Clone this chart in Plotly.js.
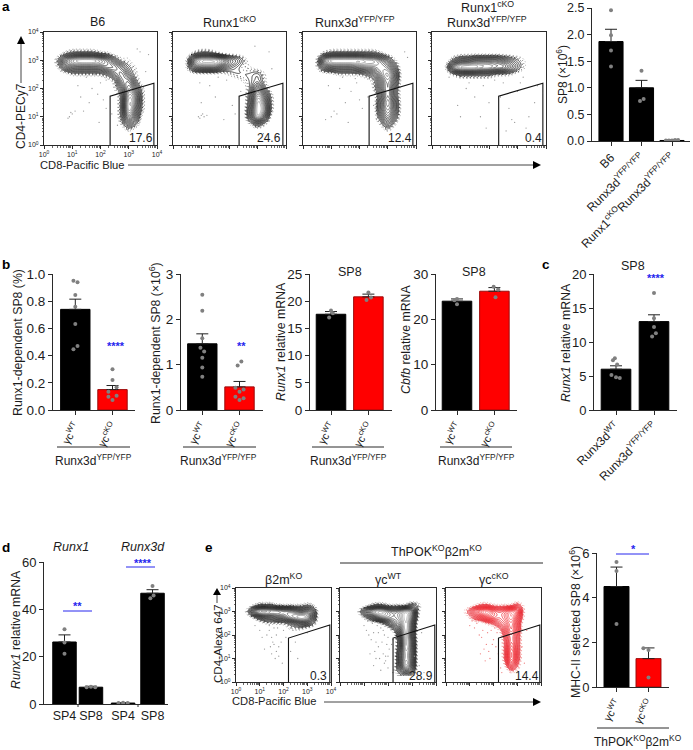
<!DOCTYPE html>
<html><head><meta charset="utf-8">
<script src="https://cdn.plot.ly/plotly-3.0.1.min.js"></script>
<style>html,body{margin:0;padding:0;background:#fff}</style></head>
<body><div id="chart" style="width:693px;height:750px"></div>
<script>
// ---------- FACS density grids (log10 units; rows top = y 3.75 to bottom = y 0.25)
const gridX=[0,.25,.5,.75,1,1.25,1.5,1.75,2,2.25,2.5,2.75,3,3.25,3.5,3.75,4];
const gridY=[3.75,3.5,3.25,3,2.75,2.5,2.25,2,1.75,1.5,1.25,1,.75,.5,.25];
const densB6=["00000000000000000","00000000000000000","00012222110010000","00268999863110000","00145555566421000","00001111124631000","00000000001562000","00000000001374100","00000000000286100","00000000000296100","00000000000295100","00000000000274000","00000000000142000","00000000000010000","00000000000000000"];
const densRunx1=["00000000000000000","00000000000000000","00012210000000000","00179998542000000","00156664321100000","00000000122231000","00000000001231000","00000000000262000","00000000000385100","00000000000396100","00000000000497100","00000000000495000","00000000000131000","00000000000000000","00000000000000000"];
const densRunx3d=["00000000000000000","00000000000000000","00012222222100000","00179999988641000","00145555666763000","00000111123685000","00000000001474000","00000000001473000","00000000000373000","00000000000484000","00000000000474000","00000000000363000","00000000000141000","00000000000010000","00000000000000000"];
const densBoth=["00000000000000000","00000000000000000","00000000000000000","00024455554321000","00179998877531000","00012222211100000","00000000000000000","00000000000000000","00000000000000000","00000000000000000","00000000000000000","00000000000000000","00000000000000000","00000000000000000","00000000000000000"];
const densB2m=["00000000000000000","00000000000000000","00012221111121000","00269988776564000","00013445578984000","00000111123442000","00000000011100000","00000000000000000","00000000000000000","00000000000000000","00000000000000000","00000000000000000","00000000000000000","00000000000000000","00000000000000000"];
const densWT=["00000000000000000","00000000000000000","00000122111132000","00014799767971000","00001357767961000","00000001356950000","00000000025950000","00000000004940000","00000000003950000","00000000003950000","00000000004850000","00000000004850000","00000000004950000","00000000013640000","00000000001210000"];
const densKO=["00000000000000000","00000000000000000","00000122111131000","00013689656871000","00001346656851000","00000001245740000","00000000014740000","00000000003630000","00000000002630000","00000000002730000","00000000002830000","00000000002830000","00000000001620000","00000000000210000","00000000000000000"];
// ---------- scattered events outside contours
const spB6X=[1,.9,.85,1.1,1.3,1.6,1.7,1.9,2,2.1,1.5,1.8,2.2,1.4,1.2,2.4,2.6,3.6,3.4,3.7,3.3,2.2,1.95,.95];
const spB6Y=[1.1,1,.95,1.2,1.7,1.5,2,1.8,2.2,1.6,2.4,2.5,2.3,1.2,2.1,1.1,.7,2.6,3.3,3.2,3.4,1.3,.8,1.15];
const spR1X=[.9,1,.95,1.1,1.05,1.2,1.3,.95,1,1.5,1.9,2.1,2.4,2.2,1.8,1.6,3.2,2.7,3.5,3.4,2.9];
const spR1Y=[1,1.05,.95,1,1.1,1.05,2.1,2.2,1.5,1.7,2.3,1.4,1.9,1.1,.9,2.4,.4,.9,2.7,3.3,3.5];
const spR3X=[1,1.1,.8,1.3,1.5,1.7,1.9,2.1,2.3,1.4,1.2,1.6,2,2.5,2.6,3.4,3.6,3.7,2.2,1.85,.9];
const spR3Y=[1,1.2,.9,2,1.5,1.9,2.2,1.3,1.7,2.4,1.1,.8,1.6,1.4,.9,2.6,3.3,3.1,2.5,2.35,2.1];
const spBothX=[.6,.9,1.2,1.5,1.7,2,2.2,2.5,2.7,3,3.2,3.4,1,1.3,1.8,2.4,2.9,3.1,3.6,2.6,3.7,1.9,2.8,3.3];
const spBothY=[2.4,1.4,2,1.7,1,1.5,2.3,2.2,1.3,1.9,2.4,1,1,2.2,2.1,1.7,.8,2.2,1.5,.5,2.1,.6,.9,.6];
const spB2mX=[1.4,1.5,1.6,1.7,1.3,1.8,2,1.9,1.2,1.6,1.7,1.5,2.1,2.2,2.4,2.7,3,1.4,1.55,1.8,1.65,1.45,2.3,2.6,1,1.1,.8,2.5,1.75,1.95];
const spB2mY=[2.2,1.9,1.6,1.3,2,1.1,2.2,1.7,1.4,2.3,2,1.2,1.9,2.4,2.2,2.3,2.1,2.4,1.7,1.5,1,1.5,1.3,1,2.2,1.9,2.4,1.7,2.3,.8];
const spWtX=[1,1.1,1.2,1.3,1.4,1.5,1.6,1.7,1.8,1.9,2,2.1,1.25,1.45,1.65,1.85,2.05,1.35,1.55,1.75,1.95,1.15,1.6,1.8,2,2.15,1.4,1.7,1.9,2.2,3.2,3.4,3.5,3.1,3.3,1.5,1.85,2.1,2.2,2];
const spWtY=[2.4,2.2,2,1.8,2.1,1.7,1.5,2.3,2.2,1.1,1.9,2.3,1.2,1.3,1,.8,1.4,2.5,2.4,1.7,1.6,2.6,2.1,1.2,.6,1.6,.7,.5,.9,.4,1.5,2.1,.4,1.1,.7,1,2,2.5,1.8,1.1];
const spKoX=[1,1.2,1.4,1.3,1.5,1.6,1.7,1.8,1.9,2,2.1,2.2,1.55,1.65,1.75,1.85,1.95,2.05,2.15,1.1,1.45,3.2,3.3,3.1,3.4,2.35,2.3];
const spKoY=[2.4,2.3,2,2.5,1.9,1.4,1.6,1.3,2.2,1.8,1.5,1.2,2.2,.9,2.1,1,1.6,2.3,2.1,2.6,1.2,1.5,.8,1.1,2.2,.4,.6];
// ---------- gates (log10 units)
const gateAX=[2.34,2.34,3.89,3.89], gateAY=[0,1.73,2.19,0];
const gateEX=[2.21,2.21,3.95,3.95], gateEY=[0,1.87,2.43,0];
const facsTicks=[0,1,2,3,4], facsTickText=['10<sup>0</sup>','10<sup>1</sup>','10<sup>2</sup>','10<sup>3</sup>','10<sup>4</sup>'];
const minorFrac=[.3,.48,.6,.7,.78,.85,.9,.95];
const facsMinor=facsTicks.slice(0,4).flatMap(d=>minorFrac.map(f=>d+f));
// ---------- bar data
const aCats=['B6','Runx3d<sup>YFP/YFP</sup>','Runx1<sup>cKO</sup>Runx3d<sup>YFP/YFP</sup>'];
const aVals=[1.87,1.0,0.01], aErr=[.23,.14,.01];
const aDotX=[0,0,0,0,1,1.07,.95,1.8,1.9,2,2.1,2.2];
const aDotY=[2.46,1.99,1.70,1.40,1.32,.79,.75,.01,.01,.01,.02,.02];
const gammaCats=['γc<sup>WT</sup>','γc<sup>cKO</sup>'];
const b1Vals=[.74,.15], b1Err=[.075,.03];
const b1DotX=[-.05,.06,0,0,0,.06,-.05,1,1,1.11,.89,1.11,.89,1];
const b1DotY=[.95,.94,.846,.76,.632,.47,.446,.30,.22,.167,.135,.105,.098,.073];
const b2Vals=[1.46,.51], b2Err=[.22,.12];
const b2DotX=[0,0,0,-.05,.05,0,0,0,1.05,.95,.89,1.11,1,.89,1.11,1];
const b2DotY=[2.54,2.19,1.58,1.375,1.29,1.15,.94,.735,1.07,.98,.49,.45,.40,.29,.26,.22];
const b3Vals=[17.6,20.8], b3Err=[.5,.5];
const b3DotX=[0,.05,-.05,1,1.07,.95];
const b3DotY=[18.3,17.8,17.0,21.6,20.7,20.2];
const b4Vals=[24.0,26.2], b4Err=[.5,.8];
const b4DotX=[0,-.07,0,.98,1.1,1.03];
const b4DotY=[24.5,24.2,23.3,27.2,26.6,24.85];
const cCats=['Runx3d<sup>WT</sup>','Runx3d<sup>YFP/YFP</sup>'];
const cVals=[6.0,13.0], cErr=[.5,1.0];
const cDotX=[-.03,-.08,.03,-.12,0,.1,1,1,1,1.05,.95];
const cDotY=[7.6,7.3,6.7,5.15,4.8,4.7,17.2,13.5,12.2,11.3,10.8];
const dCats=['SP4','SP8','SP4','SP8'], dPos=[0,.98,2.17,3.26];
const dVals=[26.2,7.1,.4,46.8], dErr=[3,.4,.1,1.5];
const dDotX=[0,0,0,.82,.98,1.14,2,2.17,2.34,3.26,3.3,3.18];
const dDotY=[31.6,26,21.2,7.1,7.3,7.1,.4,.5,.4,49.9,45.8,44.7];
const eVals=[4.5,1.27], eErr=[.87,.48];
const eDotX=[0,0,0,.84,1,1];
const eDotY=[5.6,5.19,2.82,1.74,1.66,.43];

const BLACK='#000000', RED='#ff0000', TXT='#1c1c1c', AX='#2a2a2a', BLUE='#2626ee', DOT='#808080';
const FONT='"Liberation Sans", Arial, sans-serif';
const W=693,H=750;
const px=x=>x/W, py=y=>1-y/H;
const traces=[], layout={width:W,height:H,margin:{l:0,r:0,t:0,b:0},paper_bgcolor:'#fff',plot_bgcolor:'#fff',showlegend:false,
  font:{family:FONT,color:TXT},annotations:[],shapes:[]};
let n=0;
function ann(text,x,y,size,o={}){layout.annotations.push(Object.assign({text,x:px(x),y:py(y),xref:'paper',yref:'paper',showarrow:false,xanchor:'center',yanchor:'middle',font:{size,family:FONT,color:TXT}},o));}
function line(x0,y0,x1,y1,color=AX,width=1){layout.shapes.push({type:'line',xref:'paper',yref:'paper',x0:px(x0),y0:py(y0),x1:px(x1),y1:py(y1),line:{color,width}});}
function tri(a,b,c){layout.shapes.push({type:'path',xref:'paper',yref:'paper',path:`M${px(a[0])},${py(a[1])}L${px(b[0])},${py(b[1])}L${px(c[0])},${py(c[1])}Z`,fillcolor:'#000',line:{width:0}});}
function axes(l,r,t,b,xo,yo){n++;const k=n==1?'':n;
  layout['xaxis'+k]=Object.assign({domain:[px(l),px(r)],anchor:'y'+k,showgrid:false,zeroline:false,showline:true,linecolor:AX,linewidth:1,ticks:'outside',tickcolor:AX,tickwidth:1,fixedrange:true},xo);
  layout['yaxis'+k]=Object.assign({domain:[py(b),py(t)],anchor:'x'+k,showgrid:false,zeroline:false,showline:true,linecolor:AX,linewidth:1,ticks:'outside',tickcolor:AX,tickwidth:1,fixedrange:true},yo);
  return {x:'x'+k,y:'y'+k};}
// render the typed density on a finer mesh so the contours come out round
const FINE=4;
function fineAxis(v){const o=[];for(let i=0;i<v.length-1;i++)for(let j=0;j<FINE;j++)o.push(v[i]+(v[i+1]-v[i])*j/FINE);o.push(v[v.length-1]);return o;}
function fineGrid(z){
  const R=z.length,C=z[0].length,rows=(R-1)*FINE+1,cols=(C-1)*FINE+1;let g=[];
  for(let r=0;r<rows;r++){const r0=Math.floor(r/FINE),fr=r/FINE-r0,r1=Math.min(r0+1,R-1),row=[];
    for(let c=0;c<cols;c++){const c0=Math.floor(c/FINE),fc=c/FINE-c0,c1=Math.min(c0+1,C-1);
      row.push((z[r0][c0]*(1-fc)+z[r0][c1]*fc)*(1-fr)+(z[r1][c0]*(1-fc)+z[r1][c1]*fc)*fr);}
    g.push(row);}
  for(let p=0;p<3;p++){const h=g.map((row,r)=>row.map((v,c)=>(2*v+(row[c-1]??v)+(row[c+1]??v))/4));
    g=h.map((row,r)=>row.map((v,c)=>(2*v+(h[r-1]?h[r-1][c]:v)+(h[r+1]?h[r+1][c]:v))/4));}
  return g;}
const fineX=fineAxis(gridX), fineY=fineAxis(gridY.slice().reverse());
function facs(box,rows,spX,spY,gx,gy,color,showLabels,label,labelPos){
  const [l,r,t,b]=box;
  const common={range:[0,4],tickmode:'array',tickvals:facsTicks,ticktext:facsTickText,showticklabels:showLabels,ticklen:3,mirror:true,tickfont:{size:7,family:FONT,color:TXT},
    minor:{tickmode:'array',tickvals:facsMinor,ticks:'outside',ticklen:1.5,tickcolor:AX,tickwidth:.7}};
  const a=axes(l,r,t,b,common,common);
  const z=fineGrid(rows.slice().reverse().map(s=>[...s].map(Number)));
  traces.push({type:'scatter',mode:'markers',x:spX,y:spY,xaxis:a.x,yaxis:a.y,marker:{size:1.3,color:color==RED?'#f08080':'#999'},hoverinfo:'skip'});
  traces.push({type:'contour',x:fineX,y:fineY,z,xaxis:a.x,yaxis:a.y,showscale:false,hoverinfo:'skip',autocontour:false,
    contours:{coloring:'lines',start:.9,end:1.5,size:.3},line:{width:1,dash:'1px,2.5px',smoothing:0},colorscale:[[0,color==RED?'#f4a0a0':'#999'],[1,color==RED?'#ee6060':'#222']]});
  traces.push({type:'contour',x:fineX,y:fineY,z,xaxis:a.x,yaxis:a.y,showscale:false,hoverinfo:'skip',autocontour:false,
    contours:{coloring:'lines',start:1.8,end:8.6,size:.4},line:{width:.7,smoothing:0},colorscale:color==RED?[[0,'#e0000c'],[.6,'#f02028'],[1,'#fab0b0']]:[[0,'#000'],[.55,'#222'],[1,'#bbb']]});
  traces.push({type:'scatter',mode:'lines',x:gx,y:gy,xaxis:a.x,yaxis:a.y,line:{color:'#111',width:1.1},hoverinfo:'skip'});
  ann(label,labelPos[0],labelPos[1],12);
}
function bars(box,c0,s,barW,ymax,dtick,fmt,tickVals,cats,vals,errs,colors,dx,dy,tick={},ySize=13){
  const [l,r,t,b]=box;
  const a=axes(l,r,t,b,Object.assign({range:[(l-c0)/s,(r-c0)/s],tickmode:'array',tickvals:tickVals,ticktext:cats,ticklen:4,tickfont:{size:12,family:FONT,color:TXT}},tick),
    {range:[0,ymax],dtick,tickformat:fmt,ticklen:4,tickfont:{size:ySize,family:FONT,color:TXT}});
  traces.push({type:'bar',x:tickVals,y:vals,width:barW,xaxis:a.x,yaxis:a.y,marker:{color:colors,line:{color:colors.map(c=>c==RED?'#9c0a0a':'#000'),width:1}},
    error_y:{type:'data',symmetric:false,array:errs,arrayminus:errs.map(()=>0),color:'#222',thickness:1,width:6},hoverinfo:'skip'});
  traces.push({type:'scatter',mode:'markers',x:dx,y:dy,xaxis:a.x,yaxis:a.y,marker:{size:4,color:DOT},hoverinfo:'skip'});
}
const gammaTick={tickangle:-60,tickfont:{size:11,family:FONT,color:TXT}};

// --- panel a
facs([44,157,32,145],densB6,spB6X,spB6Y,gateAX,gateAY,'k',true,'17.6',[141,138]);
facs([173,286,32,145],densRunx1,spR1X,spR1Y,gateAX,gateAY,'k',false,'24.6',[269,138]);
facs([303,416,32,145],densRunx3d,spR3X,spR3Y,gateAX,gateAY,'k',false,'12.4',[400,138]);
facs([432,546,32,145],densBoth,spBothX,spBothY,gateAX,gateAY,'k',false,'0.4',[533,138]);
bars([592,690,8,141],611,30.5,.79,2.5,.5,'.1f',[0,1,2],aCats,aVals,aErr,[BLACK,BLACK,BLACK],aDotX,aDotY,{tickangle:-45},12.5);
// --- panel b
bars([53,135,274,410],75.3,37.2,.79,1,.2,'.1f',[0,1],gammaCats,b1Vals,b1Err,[BLACK,RED],b1DotX,b1DotY,gammaTick,13.5);
bars([181,263,274,410],202.3,37.2,.79,3,1,'d',[0,1],gammaCats,b2Vals,b2Err,[BLACK,RED],b2DotX,b2DotY,gammaTick,13.5);
bars([310,392,274,410],331,37.4,.79,25,5,'d',[0,1],gammaCats,b3Vals,b3Err,[BLACK,RED],b3DotX,b3DotY,gammaTick,13.5);
bars([436,517,274,410],457,37.4,.79,30,10,'d',[0,1],gammaCats,b4Vals,b4Err,[BLACK,RED],b4DotX,b4DotY,gammaTick,13.5);
// --- panel c
bars([594,677,274,410],616,38,.78,20,5,'d',[0,1],cCats,cVals,cErr,[BLACK,BLACK],cDotX,cDotY,{tickangle:-45});
// --- panel d
bars([44,168,562,704],64.5,27,.87,60,20,'d',dPos,dCats,dVals,dErr,[BLACK,BLACK,BLACK,BLACK],dDotX,dDotY,{ticks:'',ticklen:0,tickfont:{size:12.5,family:FONT,color:TXT}});
// --- panel e
facs([236,331,588,682],densB2m,spB2mX,spB2mY,gateEX,gateEY,'k',true,'0.3',[318,676]);
facs([340,436,588,682],densWT,spWtX,spWtY,gateEX,gateEY,'k',false,'28.9',[421,676]);
facs([446,541,588,682],densKO,spKoX,spKoY,gateEX,gateEY,RED,false,'14.4',[527,676]);
bars([597,669,553,687],616.5,32,.78,6,2,'d',[0,1],gammaCats,eVals,eErr,[BLACK,RED],eDotX,eDotY,gammaTick);

// --- panel letters
for(const [t,x,y] of [['a',6,7],['b',6,265],['c',546,265],['d',6,547],['e',209,547]]) ann('<b>'+t+'</b>',x,y,13.5,{font:{size:13.5,family:FONT,color:'#000'}});
// --- FACS titles
ann('B6',97,22,12.5); ann('Runx1<sup>cKO</sup>',229,22,12.5); ann('Runx3d<sup>YFP/YFP</sup>',355,22,12.5);
ann('Runx1<sup>cKO</sup>',487,7,12.5); ann('Runx3d<sup>YFP/YFP</sup>',487,22,12.5);
ann('β2m<sup>KO</sup>',283,579,12.5); ann('γc<sup>WT</sup>',388,579,12.5); ann('γc<sup>cKO</sup>',494,579,12.5);
ann('ThPOK<sup>KO</sup>β2m<sup>KO</sup>',436,551,12.5); line(340,563,543,563);
// --- FACS axis titles + arrows
ann('CD4-PECy7',21,116,12,{textangle:-90}); line(21,83,21,44,'#444',1); tri([21,36],[17,44],[25,44]);
ann('CD8-Pacific Blue',82,165,11.2); line(128,165,535,165,'#444',1); tri([541,165],[533,161],[533,169]);
ann('CD4-Alexa 647',217,644,11.6,{textangle:-90}); line(217,603,217,595,'#444',1); tri([217,588],[213,595],[221,595]);
ann('CD8-Pacific Blue',274,701,11.2); line(324,702,535,702,'#444',1); tri([541,702],[533,698],[533,706]);
// --- bar y titles
ann('SP8 (×10<sup>6</sup>)',562,75,12,{textangle:-90});
ann('Runx1-dependent SP8 (%)',18,343,12.3,{textangle:-90});
ann('Runx1-dependent SP8 (×10<sup>6</sup>)',155,343,12.3,{textangle:-90});
ann('<i>Runx1</i> relative mRNA',281,342,12.3,{textangle:-90});
ann('<i>Cbfb</i> relative mRNA',406,340,12.3,{textangle:-90});
ann('<i>Runx1</i> relative mRNA',566,343,12.3,{textangle:-90});
ann('<i>Runx1</i> relative mRNA',16,630,12.3,{textangle:-90});
ann('MHC-II selected SP8 (×10<sup>6</sup>)',575,622,12.3,{textangle:-90});
// --- SP8 titles
ann('SP8',350,272,12.5); ann('SP8',474,272,12.5); ann('SP8',633,266,12.5);
ann('<i>Runx1</i>',71,547,12.5); ann('<i>Runx3d</i>',143,547,12.5);
// --- group underlines and labels
for(const [a,b,c] of [[57,130,93],[183,256,218],[312,384,348],[440,512,476]]){line(a,447,b,447);ann('Runx3d<sup>YFP/YFP</sup>',c,460,12);}
line(597,728,669,728); ann('ThPOK<sup>KO</sup>β2m<sup>KO</sup>',638,741,12);
// --- significance
const star=(t,x,y)=>ann(t,x,y,11,{font:{size:11,family:FONT,color:BLUE}});
star('<b>****</b>',116,346); star('<b>**</b>',241,346); star('<b>****</b>',656,278);
star('<b>**</b>',77,606); line(63,611,92,611,BLUE,1); star('<b>****</b>',143,563); line(126,567,155,567,BLUE,1);
star('<b>*</b>',633,549); line(616,554,649,554,BLUE,1);
// d axis small ticks
line(78,704,78,707); line(138,704,138,707);

Plotly.newPlot('chart',traces,layout,{displayModeBar:false,staticPlot:true});
</script></body></html>
